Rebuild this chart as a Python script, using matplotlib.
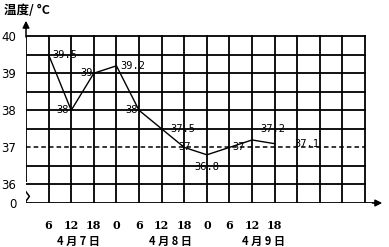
import matplotlib.pyplot as plt

plt.rcParams['font.family'] = ['Noto Sans CJK SC', 'DejaVu Sans']

# data: temperature every 6 hours, 4/7 06:00 .. 4/9 18:00
slots = list(range(1, 12))
hour_labels = ['6', '12', '18', '0', '6', '12', '18', '0', '6', '12', '18']
temps = [39.5, 38, 39, 39.2, 38, 37.5, 37, 36.8, 37, 37.2, 37.1]
temp_text = ['39.5', '38', '39', '39.2', '38', '37.5', '37', '36.8', '37', '37.2', '37.1']
day_labels = ['4 月 7 日', '4 月 8 日', '4 月 9 日']
day_pos = [2.3, 6.4, 10.5]
ytick_vals = [35.5, 36, 37, 38, 39, 40]
ytick_labels = ['0', '36', '37', '38', '39', '40']

# offsets of the value labels (points)
offs = [(3, 0, 'left'), (-2, 0, 'right'), (-1, 0, 'right'), (3, 0, 'left'),
        (-1, 0, 'right'), (6, 0, 'left'), (0, 0, 'center'), (0, -9, 'center'),
        (2, 0, 'left'), (6, 8, 'left'), (14, 0, 'left')]

fig = plt.figure(figsize=(3.89, 2.47), dpi=100)
ax = fig.add_axes([26 / 389, 44 / 247, 359 / 389, 185 / 247])
ax.set_xlim(0, 15.88)
ax.set_ylim(35.5, 40.49)
for s in ax.spines.values():
    s.set_visible(False)

k = dict(color='black', lw=1.3, zorder=1)
# grid
for i in range(1, 16):
    ax.plot([i, i], [35.5, 40], **k)
for j in range(9):
    y = 36 + 0.5 * j
    if y == 37:
        continue
    ax.plot([0, 15], [y, y], **k)
ax.plot([0, 15], [37, 37], color='black', lw=1.1, ls=(0, (3, 2)), zorder=1)
ax.plot([0, 0], [36.1, 40], **k)
# axis break on the y axis
ax.plot([0, -0.15, -0.12, 0.15, 0, 0], [36.1, 35.98, 35.9, 35.68, 35.55, 35.5],
        color='black', lw=1.1)
# axes with arrows
ax.plot([0, 15.4], [35.5, 35.5], **k)
ax.annotate('', xy=(15.88, 35.5), xytext=(15.2, 35.5),
            arrowprops=dict(arrowstyle='-|>', color='black', lw=1.1, mutation_scale=10))
ax.annotate('', xy=(0, 40.49), xytext=(0, 39.9),
            arrowprops=dict(arrowstyle='-|>', color='black', lw=1.1, mutation_scale=10))

ax.plot(slots, temps, color='black', lw=1.0, zorder=3)
for x, y, t, (dx, dy, ha) in zip(slots, temps, temp_text, offs):
    ax.annotate(t, (x, y), xytext=(dx, dy), textcoords='offset points',
                ha=ha, va='center', fontsize=7.5, family='DejaVu Sans Mono', zorder=4)

ax.set_xticks(slots, hour_labels, fontsize=8, family='DejaVu Serif', fontweight='bold')
ax.set_yticks(ytick_vals, ytick_labels, fontsize=8.5, family='DejaVu Sans')
ax.tick_params(axis='x', length=0, pad=12)
ax.tick_params(axis='y', length=0, pad=7)

for p, d in zip(day_pos, day_labels):
    ax.text(p, -0.21, d, transform=ax.get_xaxis_transform(), ha='center', va='center',
            fontsize=8, fontweight='bold')

fig.text(4 / 389, 1 - 10 / 247, '温度/ °C', ha='left', va='center', fontsize=9, fontweight='bold')

fig.savefig('out.png', dpi=100)
